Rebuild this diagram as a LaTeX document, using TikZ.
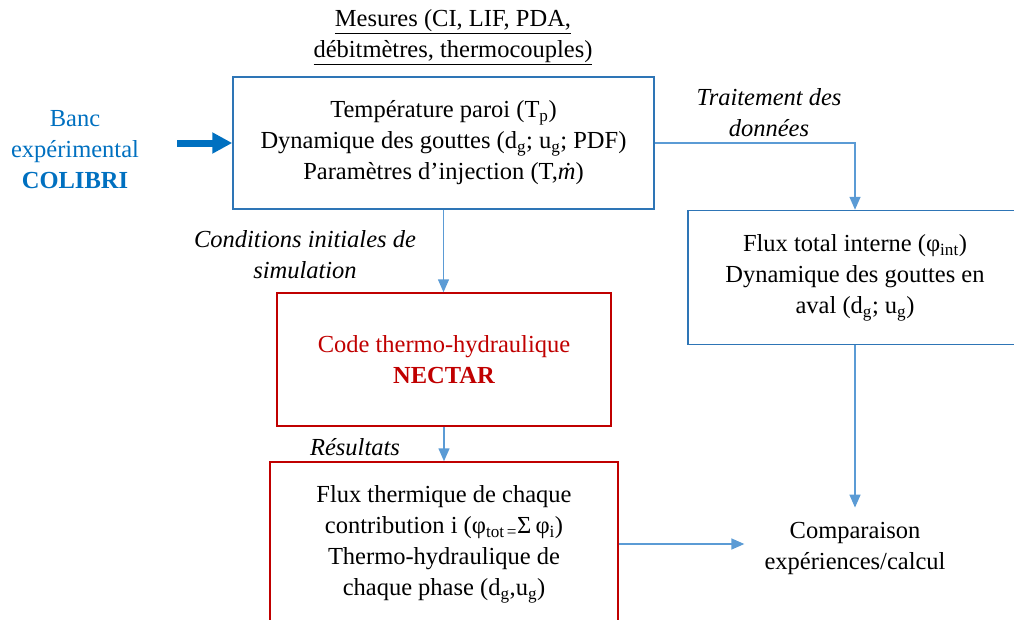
\documentclass[tikz,border=0pt]{standalone}
\usepackage{fontspec}
\setmainfont{Liberation Serif}
\usetikzlibrary{arrows.meta}
\definecolor{bancblue}{RGB}{0,112,192}
\definecolor{boxblue}{RGB}{46,117,182}
\definecolor{lineblue}{RGB}{91,155,213}
\definecolor{boxred}{RGB}{192,0,0}
\newcommand{\diagfont}{\fontsize{24.5}{31}\selectfont}
\newcommand{\subtxt}[1]{\textsubscript{#1}}
\tikzset{
  every node/.style={font=\diagfont},
  bluebox/.style={draw=boxblue, line width=1.5pt, align=center, inner sep=0pt},
  redbox/.style={draw=boxred, line width=1.5pt, align=center, inner sep=0pt},
  flow/.style={draw=lineblue, line width=1.5pt, -{Triangle[length=13pt,width=11pt]}},
  lbl/.style={align=center, font=\diagfont\itshape}}

\begin{document}
\begin{tikzpicture}[x=1pt,y=-1pt]
  \useasboundingbox (0,0) rectangle (1014,619);
  % source and measures
  \node[align=center, text=bancblue] (banc) at (75,150) {Banc\\ expérimental\\ \textbf{COLIBRI}};
  \node[align=center] (mesures) at (453,37) {\underline{Mesures (CI, LIF, PDA,}\\ \underline{débitmètres, thermocouples)}};
  \node[bluebox, minimum width=421pt, minimum height=132pt] (mes) at (443.5,143)
    {Température paroi (T\subtxt{p})\\ Dynamique des gouttes (d\subtxt{g}; u\subtxt{g}; PDF)\\ Paramètres d’injection (T,\textit{\.{m}})};
  \node[bluebox, minimum width=334pt, minimum height=134pt] (flux) at (855,277.5)
    {Flux total interne (φ\subtxt{int})\\ Dynamique des gouttes en\\ aval (d\subtxt{g}; u\subtxt{g})};
  % simulation
  \node[redbox, minimum width=334pt, minimum height=133pt, text=boxred] (code) at (444,359.5)
    {Code thermo-hydraulique\\ \textbf{NECTAR}};
  \node[redbox, minimum width=348pt, minimum height=164pt] (contrib) at (444,544)
    {Flux thermique de chaque\\ contribution i (φ\subtxt{tot\,=}Σ\,φ\subtxt{i})\\ Thermo-hydraulique de\\ chaque phase (d\subtxt{g},u\subtxt{g})};
  \node[align=center, inner xsep=20pt, inner ysep=14pt] (cmp) at (855,548) {Comparaison\\ expériences/calcul};
  % labels
  \node[lbl] (trait) at (769,113) {Traitement des\\ données};
  \node[lbl] (cond) at (305,255) {Conditions initiales de\\ simulation};
  \node[lbl] (res) at (355,447) {Résultats};
  % arrows
  \draw[line width=7pt, bancblue, -{Triangle[length=20pt,width=20pt]}] ([xshift=35pt]banc.east |- mes.west) -- (mes.west);
  \draw[flow] (mes.east) -| (flux.north);
  \draw[flow] (mes.south) -- (mes.south |- code.north);
  \draw[flow] (code.south) -- (code.south |- contrib.north);
  \draw[flow] (flux.south) -- (cmp.north);
  \draw[flow] (contrib.east) -- (contrib.east -| cmp.west);
\end{tikzpicture}
\end{document}
